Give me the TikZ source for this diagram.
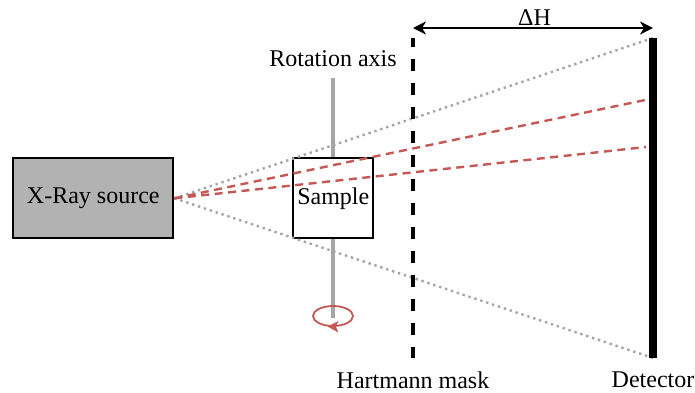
\documentclass[tikz,border=0pt]{standalone}
\usepackage{fontspec}
\setmainfont{Liberation Serif}
\usetikzlibrary{arrows.meta,shapes.geometric}
\definecolor{redray}{RGB}{196,88,84}
\definecolor{greyray}{RGB}{165,165,165}
\definecolor{srcfill}{RGB}{178,178,178}
\tikzset{
  boxnode/.style={draw=black,line width=2.2pt,minimum width=160pt,minimum height=80pt,inner sep=0pt,font=\fontsize{24}{28}\selectfont},
  lab/.style={inner sep=0pt,font=\fontsize{24}{28}\selectfont},
  rayg/.style={draw=greyray,line width=2.4pt,dash pattern=on 2.4pt off 3.8pt},
  rayr/.style={draw=redray,line width=2.4pt,dash pattern=on 8pt off 5.5pt},
  axisline/.style={draw=greyray,line width=4.5pt},
}
\begin{document}
\begin{tikzpicture}[x=1pt,y=-1pt]
\useasboundingbox (0,0) rectangle (695,392);
\coordinate (axT) at (333,78);
\coordinate (axB) at (333,318);
\coordinate (maskT) at (413,38);
\coordinate (maskB) at (413,358);
\coordinate (detT) at (653,38);
\coordinate (detB) at (653,358);
\coordinate (dimL) at (413,28);
\coordinate (dimR) at (653,28);
\coordinate (redA) at (650,99);
\coordinate (redB) at (646,147);
\draw[axisline] (axT) -- (axB);
\node[boxnode,fill=srcfill,anchor=north west] (source) at (12.2,157.2) {X-Ray source};
\node[boxnode,fill=white,minimum width=80pt,anchor=north west] (sample) at (292.2,157.2) {Sample};
\draw[rayg] (source.east) -- (detT);
\draw[rayg] (source.east) -- (detB);
\draw[rayr] (source.east) -- (redA);
\draw[rayr] (source.east) -- (redB);
\draw[black,line width=4.2pt,dash pattern=on 12pt off 12pt,dash phase=3pt] (maskT) -- (maskB);
\draw[black,line width=8.5pt] (detT) -- (detB);
\draw[black,line width=1.8pt,{Stealth[length=13pt,width=13pt,inset=4pt]}-{Stealth[length=13pt,width=13pt,inset=4pt]}] (dimL) -- (dimR);
\node[draw=redray,line width=1.8pt,ellipse,minimum width=40pt,minimum height=20pt,inner sep=0pt] (rot) at (333,316) {};
\draw[draw=redray,fill=redray] (328,326.5) -- (338,321.5) -- (335.5,326.5) -- (338,332) -- cycle;
\node[lab] (rotlab) at (333,59) {Rotation axis};
\node[lab] (dh) at (534.5,17.5) {ΔH};
\node[lab] (masklab) at (413,380) {Hartmann mask};
\node[lab] (detlab) at (653,380) {Detector};
\end{tikzpicture}
\end{document}
